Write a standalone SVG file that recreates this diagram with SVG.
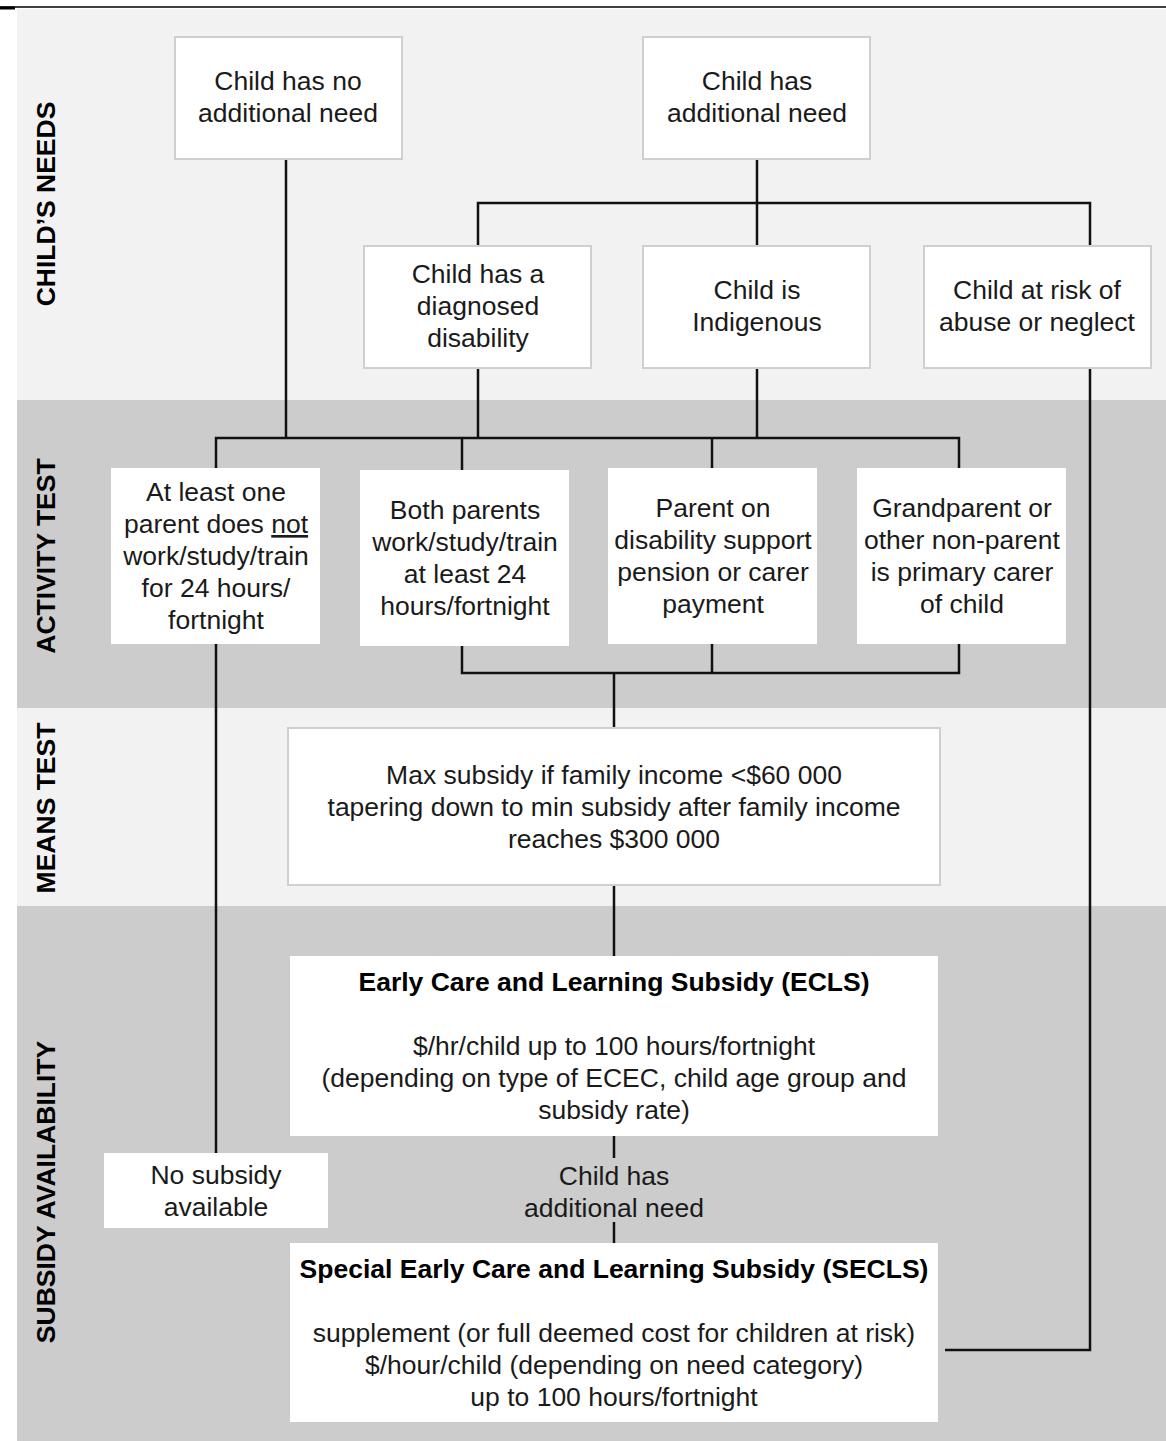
<svg xmlns="http://www.w3.org/2000/svg" width="1166" height="1441" viewBox="0 0 1166 1441">
<style>
.band1{fill:#f2f2f2}
.band2{fill:#cccccc}
.bl{fill:#fff;stroke:#cfcfcf;stroke-width:2}
.bd{fill:#fff;stroke:none}
text{font-family:"Liberation Sans",Arial,sans-serif;font-size:26.5px;fill:#1a1a1a;text-anchor:middle}
.b{font-weight:bold;fill:#000}
.lab{font-weight:bold;font-size:26.5px;fill:#000}
.c{fill:none;stroke:#111;stroke-width:2.5}
</style>
<rect x="0" y="0" width="1166" height="1441" fill="#fff"/>
<line x1="0" y1="7" x2="1166" y2="7" stroke="#000" stroke-width="1.5"/>
<line x1="0" y1="8" x2="15" y2="8" stroke="#000" stroke-width="3"/>
<g id="bands">
<rect class="band1" x="17" y="9" width="1149" height="391"/>
<rect class="band2" x="17" y="400" width="1149" height="308"/>
<rect class="band1" x="17" y="708" width="1149" height="198"/>
<rect class="band2" x="17" y="906" width="1149" height="535"/>
<text class="lab" transform="translate(55,204) rotate(-90)">CHILD’S NEEDS</text>
<text class="lab" transform="translate(55,556) rotate(-90)">ACTIVITY TEST</text>
<text class="lab" transform="translate(55,808) rotate(-90)">MEANS TEST</text>
<text class="lab" transform="translate(55,1192) rotate(-90)">SUBSIDY AVAILABILITY</text>
</g>
<g id="connectors">
<path class="c" d="M286 159 V438"/>
<path class="c" d="M757 159 V246 M478 246 V203 H1090 V246"/>
<path class="c" d="M478 368 V438 M757 368 V438"/>
<path class="c" d="M216 468 V438 H959 V468 M462 438 V470 M712 438 V468"/>
<path class="c" d="M462 646 V673 H959 V644 M712 644 V673 M614 673 V728"/>
<path class="c" d="M614 885 V956"/>
<path class="c" d="M614 1136 V1158 M614 1222 V1243"/>
<path class="c" d="M216 644 V1153"/>
<path class="c" d="M1090 368 V1350 H945"/>
</g>
<g id="n_noneed"><rect class="bl" x="175" y="37" width="227" height="122"/>
<text x="288" y="90">Child has no</text><text x="288" y="122">additional need</text></g>
<g id="n_need"><rect class="bl" x="643" y="37" width="227" height="122"/>
<text x="757" y="90">Child has</text><text x="757" y="122">additional need</text></g>
<g id="n_disab"><rect class="bl" x="364" y="246" width="227" height="122"/>
<text x="478" y="283">Child has a</text><text x="478" y="315">diagnosed</text><text x="478" y="347">disability</text></g>
<g id="n_indig"><rect class="bl" x="643" y="246" width="227" height="122"/>
<text x="757" y="299">Child is</text><text x="757" y="331">Indigenous</text></g>
<g id="n_risk"><rect class="bl" x="924" y="246" width="227" height="122"/>
<text x="1037" y="299">Child at risk of</text><text x="1037" y="331">abuse or neglect</text></g>
<g id="n_one"><rect class="bd" x="111" y="468" width="209" height="176"/>
<text x="216" y="501">At least one</text><text x="216" y="533">parent does <tspan text-decoration="underline">not</tspan></text><text x="216" y="565">work/study/train</text><text x="216" y="597">for 24 hours/</text><text x="216" y="629">fortnight</text></g>
<g id="n_both"><rect class="bd" x="360" y="470" width="209" height="176"/>
<text x="465" y="519">Both parents</text><text x="465" y="551">work/study/train</text><text x="465" y="583">at least 24</text><text x="465" y="615">hours/fortnight</text></g>
<g id="n_pension"><rect class="bd" x="608" y="468" width="209" height="176"/>
<text x="713" y="517">Parent on</text><text x="713" y="549">disability support</text><text x="713" y="581">pension or carer</text><text x="713" y="613">payment</text></g>
<g id="n_grand"><rect class="bd" x="857" y="468" width="209" height="176"/>
<text x="962" y="517">Grandparent or</text><text x="962" y="549">other non-parent</text><text x="962" y="581">is primary carer</text><text x="962" y="613">of child</text></g>
<g id="n_means"><rect class="bl" x="288" y="728" width="652" height="157"/>
<text x="614" y="784">Max subsidy if family income &lt;$60 000</text><text x="614" y="816">tapering down to min subsidy after family income</text><text x="614" y="848">reaches $300 000</text></g>
<g id="n_ecls"><rect class="bd" x="290" y="956" width="648" height="180"/>
<text class="b" x="614" y="991">Early Care and Learning Subsidy (ECLS)</text>
<text x="614" y="1055">$/hr/child up to 100 hours/fortnight</text><text x="614" y="1087">(depending on type of ECEC, child age group and</text><text x="614" y="1119">subsidy rate)</text></g>
<g id="e_label"><text x="614" y="1185">Child has</text><text x="614" y="1217">additional need</text></g>
<g id="n_none"><rect class="bd" x="104" y="1153" width="224" height="75"/>
<text x="216" y="1184">No subsidy</text><text x="216" y="1216">available</text></g>
<g id="n_secls"><rect class="bd" x="290" y="1243" width="648" height="179"/>
<text class="b" x="614" y="1278">Special Early Care and Learning Subsidy (SECLS)</text>
<text x="614" y="1342">supplement (or full deemed cost for children at risk)</text><text x="614" y="1374">$/hour/child (depending on need category)</text><text x="614" y="1406">up to 100 hours/fortnight</text></g>
</svg>
